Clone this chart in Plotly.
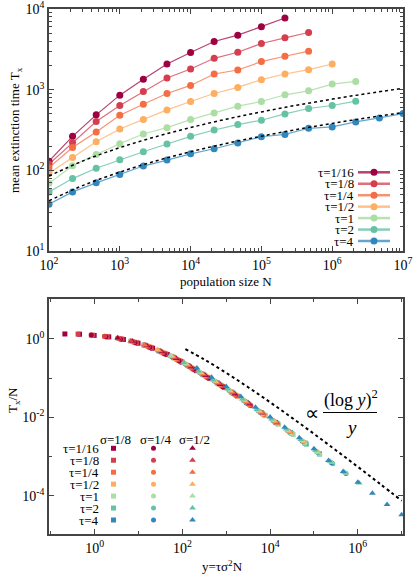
import plotly.graph_objects as go

# population sizes (1/3 decade grid)
N = [100, 215, 464, 1000, 2150, 4640, 1e4, 2.15e4, 4.64e4, 1e5, 2.15e5, 4.64e5,
     1e6, 2.15e6, 4.64e6, 1e7]

tau_labels = ["τ=1/16", "τ=1/8", "τ=1/4", "τ=1/2", "τ=1", "τ=2", "τ=4"]
tau = [1/16, 1/8, 1/4, 1/2, 1, 2, 4]
colors = ["#9e0142", "#d53e4f", "#f46d43", "#fdae61", "#abdda4", "#66c2a5", "#3288bd"]
faded = ["rgba(158,1,66,0.75)", "rgba(213,62,79,0.75)", "rgba(244,109,67,0.75)",
         "rgba(253,174,97,0.75)", "rgba(171,221,164,0.85)", "rgba(102,194,165,0.8)",
         "rgba(50,136,189,0.75)"]

# mean extinction time, top panel
T_1_16 = [130, 264, 487, 855, 1342, 2083, 2884, 3954, 4742, 6022, 7727]
T_1_8 = [120, 222, 402, 636, 951, 1393, 1804, 2447, 2911, 3733, 4393, 5117]
T_1_4 = [108, 192, 299, 482, 661, 897, 1129, 1563, 1753, 2228, 2596, 2997]
T_1_2 = [92, 144, 226, 326, 426, 561, 713, 897, 1066, 1329, 1563, 1770, 2083]
T_1 = [69, 114, 157, 214, 282, 338, 426, 515, 624, 713, 864, 968, 1173, 1267]
T_2 = [54, 79, 106, 135, 170, 212, 264, 316, 369, 418, 501, 584, 636, 720]
T_4 = [38, 54, 70, 89, 113, 134, 160, 185, 218, 261, 279, 332, 345, 398, 447, 506]
T_all = [T_1_16, T_1_8, T_1_4, T_1_2, T_1, T_2, T_4]

# dotted guide curves (top), read at half decades
N_guide = [1e2, 3.16e2, 1e3, 3.16e3, 1e4, 3.16e4, 1e5, 3.16e5, 1e6, 3.16e6, 1e7]
guide_upper = [85, 133, 191, 260, 339, 430, 530, 642, 764, 896, 1039]
guide_lower = [42, 66, 95, 130, 170, 215, 265, 321, 382, 448, 520]

# scaled times T/N, bottom panel; rows follow tau, points follow N[1:]
sigma = [1/8, 1/4, 1/2]
sigma_labels = ["σ=1/8", "σ=1/4", "σ=1/2"]
symbols = ["square", "circle", "triangle-up"]
ratio_s8 = [
    [1.34, 1.32, 1.23, 1.13, 0.97, 0.78, 0.58, 0.40, 0.257, 0.155],
    [1.33, 1.24, 1.14, 0.99, 0.80, 0.60, 0.415, 0.269, 0.163, 0.0984, 0.058],
    [1.25, 1.15, 1.01, 0.82, 0.62, 0.43, 0.282, 0.171, 0.103, 0.0613, 0.0346],
    [1.16, 1.02, 0.84, 0.64, 0.447, 0.296, 0.180, 0.108, 0.0646, 0.0366, 0.0200, 0.0111],
    [1.04, 0.86, 0.66, 0.464, 0.31, 0.189, 0.114, 0.068, 0.0388, 0.0213, 0.0117, 0.0066, 0.00361],
    [0.88, 0.68, 0.48, 0.325, 0.199, 0.120, 0.0716, 0.0411, 0.0226, 0.0124, 0.00698, 0.00384, 0.00206],
    [0.70, 0.50, 0.34, 0.209, 0.126, 0.0755, 0.0436, 0.024, 0.0132, 0.0074, 0.00407, 0.00219, 0.00116],
]
ratio_s4 = [
    [1.26, 1.14, 1.00, 0.81, 0.61, 0.42, 0.278, 0.168, 0.101, 0.060],
    [1.17, 1.03, 0.83, 0.63, 0.44, 0.29, 0.177, 0.106, 0.0638, 0.0362, 0.0197],
    [1.05, 0.87, 0.67, 0.46, 0.305, 0.186, 0.112, 0.067, 0.0383, 0.0210, 0.0115],
    [0.89, 0.69, 0.485, 0.32, 0.196, 0.118, 0.0705, 0.0405, 0.0222, 0.0122, 0.00688, 0.00378],
    [0.71, 0.51, 0.345, 0.206, 0.124, 0.0745, 0.043, 0.0237, 0.0130, 0.0073, 0.0040, 0.00216, 0.00114],
    [0.516, 0.353, 0.22, 0.132, 0.0795, 0.0461, 0.0255, 0.0139, 0.00783, 0.00433, 0.00233, 0.00123, 0.00065],
    [0.367, 0.23, 0.138, 0.0838, 0.0488, 0.0270, 0.0147, 0.00828, 0.00459, 0.00248, 0.00131, 0.00069, 0.000366],
]
ratio_s2 = [
    [1.05, 0.87, 0.67, 0.47, 0.315, 0.192, 0.116, 0.069, 0.0395, 0.0217],
    [0.89, 0.69, 0.49, 0.33, 0.203, 0.122, 0.073, 0.042, 0.0231, 0.0127, 0.00712],
    [0.71, 0.51, 0.35, 0.213, 0.129, 0.077, 0.0445, 0.0245, 0.0135, 0.0076, 0.00418],
    [0.53, 0.36, 0.225, 0.135, 0.081, 0.047, 0.026, 0.0142, 0.0080, 0.00443, 0.00239, 0.00126],
    [0.375, 0.235, 0.141, 0.0856, 0.0498, 0.0276, 0.015, 0.00846, 0.00469, 0.00254, 0.00134, 0.000706, 0.000375],
    [0.25, 0.15, 0.090, 0.053, 0.0293, 0.0159, 0.0090, 0.0050, 0.0027, 0.00144, 0.000755, 0.000395, 0.00021],
    [0.18, 0.105, 0.061, 0.034, 0.018, 0.0102, 0.0056, 0.0030, 0.00158, 0.000783, 0.000413, 0.000219,
     0.000115, 0.0000597, 0.0000324],
]
ratio_all = [ratio_s8, ratio_s4, ratio_s2]

# guide (log y)^2/y, bottom panel
y_guide = [117, 316, 1e3, 3.16e3, 1e4, 3.16e4, 1e5, 3.16e5, 1e6, 3.16e6, 1e7]
guide_scaling = [0.55, 0.299, 0.136, 0.0585, 0.0242, 0.00968, 0.00378, 0.001446, 0.000544, 0.000202, 0.000074]

FONT = "Liberation Serif"
W, H = 415, 575
X0, X1, Y0, Y1 = 49, 403, 9, 534   # plot area in pixels
PW, PH = X1 - X0, Y1 - Y0


def px(x):
    return (x - X0) / PW


def py(y):
    return (Y1 - y) / PH


fig = go.Figure()

# ---- top panel
for i in range(7):
    n = N[:len(T_all[i])]
    fig.add_trace(go.Scatter(x=n, y=T_all[i], mode="lines", line=dict(color=faded[i], width=1.2),
                             xaxis="x", yaxis="y", showlegend=False))
for i in range(7):
    n = N[:len(T_all[i])]
    fig.add_trace(go.Scatter(x=n, y=T_all[i], mode="markers", marker=dict(color=colors[i], size=7),
                             xaxis="x", yaxis="y", showlegend=False))
for g in [guide_upper, guide_lower]:
    fig.add_trace(go.Scatter(x=N_guide, y=g, mode="lines", line=dict(color="black", width=1.5, dash="dot", shape="spline"),
                             xaxis="x", yaxis="y", showlegend=False))

# ---- bottom panel
for s in range(3):
    for i in range(7):
        vals = ratio_all[s][i]
        yv = [tau[i] * sigma[s] ** 2 * n for n in N[1:1 + len(vals)]]
        fig.add_trace(go.Scatter(x=yv, y=vals, mode="markers",
                                 marker=dict(symbol=symbols[s], color=colors[i], size=5 if s < 2 else 6),
                                 xaxis="x2", yaxis="y2", showlegend=False))
fig.add_trace(go.Scatter(x=y_guide, y=guide_scaling, mode="lines",
                         line=dict(color="black", width=2, dash="dot", shape="spline"),
                         xaxis="x2", yaxis="y2", showlegend=False))

# ---- legend keys drawn on pixel-like overlay axes
row0, row_step = 172.3, 11.45
annotations = []
for i in range(7):
    ry = row0 + i * row_step
    fig.add_trace(go.Scatter(x=[358, 374, 390], y=[ry] * 3, mode="lines",
                             line=dict(color=faded[i], width=2.5),
                             xaxis="x3", yaxis="y3", showlegend=False))
    fig.add_trace(go.Scatter(x=[374], y=[ry], mode="markers", marker=dict(color=colors[i], size=7),
                             xaxis="x3", yaxis="y3", showlegend=False))
    annotations.append(dict(x=356, y=ry, xref="x3", yref="y3", text=tau_labels[i], showarrow=False,
                            xanchor="right", yanchor="middle", font=dict(size=13)))

brow0, brow_step = 448.3, 11.95
col_x = [113.5, 153.5, 192.5]
for s in range(3):
    annotations.append(dict(x=col_x[s] + 2, y=439, xref="x4", yref="y4", text=sigma_labels[s], showarrow=False,
                            xanchor="center", yanchor="middle", font=dict(size=13)))
    fig.add_trace(go.Scatter(x=[col_x[s]] * 7, y=[brow0 + i * brow_step for i in range(7)], mode="markers",
                             marker=dict(symbol=symbols[s], color=colors, size=5 if s < 2 else 6),
                             xaxis="x4", yaxis="y4", showlegend=False))
for i in range(7):
    annotations.append(dict(x=101, y=brow0 + i * brow_step, xref="x4", yref="y4", text=tau_labels[i],
                            showarrow=False, xanchor="right", yanchor="middle", font=dict(size=13)))

# formula
annotations += [
    dict(x=312, y=413, xref="x4", yref="y4", text="∝", showarrow=False, font=dict(size=20)),
    dict(x=351, y=399, xref="x4", yref="y4", text="(log <i>y</i>)<sup>2</sup>", showarrow=False, font=dict(size=18)),
    dict(x=351, y=427, xref="x4", yref="y4", text="<i>y</i>", showarrow=False, font=dict(size=19)),
]
shapes = [dict(type="line", xref="x4", yref="y4", x0=323, x1=377, y0=412.5, y1=412.5,
               line=dict(color="black", width=1))]

# axis titles
titles = [
    (226, 281, "population size N", 0),
    (15, 130, "mean extinction time T<sub>x</sub>", -90),
    (222, 566, "y=τσ<sup>2</sup>N", 0),
    (13, 400, "T<sub>x</sub>/N", -90),
]
for tx, ty, text, ang in titles:
    annotations.append(dict(x=px(tx), y=py(ty), xref="paper", yref="paper", text=text, showarrow=False,
                            xanchor="center", yanchor="middle", textangle=ang, font=dict(size=13)))

axis_line = dict(showline=True, linecolor="#444", linewidth=1.5, mirror="allticks", ticks="inside",
                 ticklen=5, tickcolor="#444", showgrid=False, zeroline=False, automargin=False,
                 ticklabeloverflow="allow",
                 tickfont=dict(size=14, family=FONT, color="black"))

minor_top = [m * 10 ** e for e in range(1, 7) for m in range(2, 10)]
fig.update_layout(
    width=W, height=H,
    margin=dict(l=X0, r=W - X1, t=Y0, b=H - Y1),
    paper_bgcolor="white", plot_bgcolor="rgba(0,0,0,0)",
    font=dict(family=FONT, size=13, color="black"),
    xaxis=dict(type="log", range=[2, 7], domain=[0, 1], anchor="y",
               tickvals=[1e2, 1e3, 1e4, 1e5, 1e6, 1e7],
               ticktext=["10<sup>2</sup>", "10<sup>3</sup>", "10<sup>4</sup>", "10<sup>5</sup>",
                         "10<sup>6</sup>", "10<sup>7</sup>"],
               minor=dict(tickvals=minor_top, ticks="inside", ticklen=3, tickcolor="#444"),
               **axis_line),
    yaxis=dict(type="log", range=[1, 4], domain=[py(251), 1], anchor="x",
               tickvals=[10, 100, 1000, 10000],
               ticktext=["10<sup>1</sup>", "10<sup>2</sup>", "10<sup>3</sup>", "10<sup>4</sup>"],
               minor=dict(tickvals=minor_top, ticks="inside", ticklen=3, tickcolor="#444"),
               **axis_line),
    xaxis2=dict(type="log", range=[-1.04, 7.03], domain=[0, 1], anchor="y2",
                tickvals=[1, 1e2, 1e4, 1e6],
                ticktext=["10<sup>0</sup>", "10<sup>2</sup>", "10<sup>4</sup>", "10<sup>6</sup>"],
                minor=dict(tickvals=[0.1, 10, 1e3, 1e5, 1e7], ticks="inside", ticklen=3, tickcolor="#444"),
                **axis_line),
    yaxis2=dict(type="log", range=[-4.98, 1.02], domain=[0, py(299)], anchor="x2",
                tickvals=[1, 1e-2, 1e-4],
                ticktext=["10<sup>0</sup>", "10<sup>-2</sup>", "10<sup>-4</sup>"],
                minor=dict(tickvals=[10, 0.1, 1e-3], ticks="inside", ticklen=3, tickcolor="#444"),
                **axis_line),
    xaxis3=dict(overlaying="x", range=[X0, X1], visible=False),
    yaxis3=dict(overlaying="y", range=[251, Y0], visible=False),
    xaxis4=dict(overlaying="x2", range=[X0, X1], visible=False),
    yaxis4=dict(overlaying="y2", range=[Y1, 299], visible=False),
    annotations=annotations,
    shapes=shapes,
)

# drop the default page margin so the figure sits at the window origin
fig.write_html("out.html", config={"displayModeBar": False},
               post_script="document.body.style.margin='0px';")
